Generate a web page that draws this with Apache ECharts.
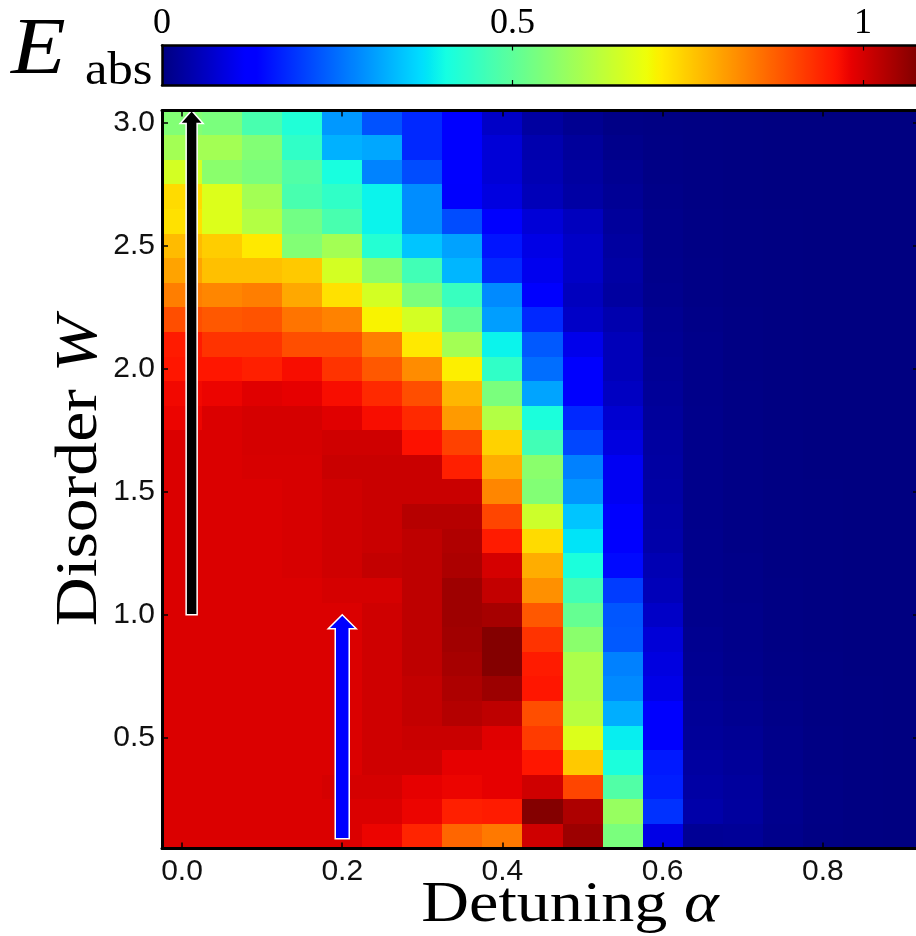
<!DOCTYPE html>
<html>
<head>
<meta charset="utf-8">
<script src="https://cdn.jsdelivr.net/npm/echarts@6/dist/echarts.min.js"></script>
<style>
html,body{margin:0;padding:0;background:#fff;}
#c{width:916px;height:936px;}
</style>
</head>
<body>
<div id="c"></div>
<script>
// ---------------- data ----------------
const alpha = [0, 0.05, 0.1, 0.15, 0.2, 0.25, 0.3, 0.35, 0.4, 0.45, 0.5, 0.55, 0.6, 0.65, 0.7, 0.75, 0.8, 0.85, 0.9];
const disorder = [3.0, 2.9, 2.8, 2.7, 2.6, 2.5, 2.4, 2.3, 2.2, 2.1, 2.0, 1.9, 1.8, 1.7, 1.6,
                  1.5, 1.4, 1.3, 1.2, 1.1, 1.0, 0.9, 0.8, 0.7, 0.6, 0.5, 0.4, 0.3, 0.2, 0.1];
// E_abs, one row per disorder value (top to bottom), one column per alpha
const Eabs = [
  [0.549,0.538,0.473,0.420,0.296,0.221,0.177,0.129,0.067,0.030,0.016,0.006,0.004,0.003,0.002,0.001,0.001,0.001,0.001], // 3.0
  [0.592,0.592,0.549,0.441,0.323,0.312,0.177,0.129,0.081,0.043,0.025,0.011,0.005,0.003,0.002,0.001,0.001,0.001,0.001], // 2.9
  [0.656,0.560,0.538,0.484,0.409,0.274,0.215,0.124,0.081,0.048,0.030,0.016,0.006,0.004,0.002,0.001,0.001,0.001,0.001], // 2.8
  [0.732,0.667,0.592,0.473,0.441,0.393,0.285,0.118,0.090,0.054,0.034,0.020,0.008,0.004,0.002,0.001,0.001,0.001,0.001], // 2.7
  [0.726,0.667,0.613,0.527,0.473,0.393,0.285,0.215,0.118,0.081,0.058,0.025,0.009,0.005,0.003,0.002,0.001,0.001,0.001], // 2.6
  [0.769,0.748,0.716,0.549,0.592,0.425,0.344,0.307,0.156,0.095,0.067,0.030,0.010,0.005,0.003,0.002,0.001,0.001,0.001], // 2.5
  [0.796,0.764,0.764,0.753,0.656,0.560,0.463,0.328,0.177,0.104,0.067,0.034,0.011,0.006,0.003,0.002,0.001,0.001,0.001], // 2.4
  [0.839,0.829,0.839,0.791,0.726,0.656,0.538,0.452,0.282,0.118,0.058,0.030,0.013,0.006,0.003,0.002,0.001,0.001,0.001], // 2.3
  [0.893,0.882,0.888,0.850,0.834,0.705,0.656,0.506,0.303,0.177,0.067,0.043,0.016,0.008,0.004,0.002,0.001,0.001,0.001], // 2.2
  [0.952,0.925,0.925,0.893,0.893,0.839,0.716,0.592,0.393,0.229,0.100,0.054,0.018,0.009,0.004,0.002,0.001,0.001,0.001], // 2.1
  [0.958,0.958,0.947,0.968,0.925,0.882,0.823,0.710,0.441,0.251,0.118,0.054,0.020,0.009,0.004,0.002,0.001,0.001,0.001], // 2.0
  [0.974,0.979,0.990,0.985,0.968,0.936,0.893,0.775,0.538,0.309,0.118,0.062,0.023,0.010,0.005,0.002,0.001,0.001,0.001], // 1.9
  [0.979,0.995,1.001,1.001,0.990,0.968,0.936,0.807,0.613,0.414,0.177,0.076,0.025,0.011,0.005,0.002,0.001,0.001,0.001], // 1.8
  [0.995,0.995,1.001,1.001,1.006,1.006,0.963,0.909,0.742,0.463,0.209,0.090,0.030,0.011,0.006,0.003,0.001,0.001,0.001], // 1.7
  [0.995,0.995,0.999,0.999,1.011,1.011,1.011,0.947,0.785,0.560,0.271,0.108,0.032,0.011,0.006,0.003,0.001,0.001,0.001], // 1.6
  [0.995,0.995,0.995,0.999,1.006,1.011,1.011,1.011,0.829,0.549,0.293,0.108,0.034,0.011,0.006,0.003,0.002,0.001,0.001], // 1.5
  [0.995,0.995,0.995,0.999,1.006,1.011,1.029,1.029,0.904,0.646,0.344,0.118,0.037,0.011,0.006,0.003,0.002,0.001,0.001], // 1.4
  [0.995,0.995,0.995,0.999,1.006,1.011,1.022,1.035,0.952,0.732,0.377,0.124,0.039,0.012,0.006,0.003,0.002,0.001,0.001], // 1.3
  [0.995,0.995,0.995,0.999,1.006,1.017,1.022,1.039,1.001,0.785,0.414,0.145,0.048,0.012,0.008,0.003,0.002,0.001,0.001], // 1.2
  [0.995,0.995,0.995,0.995,1.001,1.001,1.022,1.052,1.017,0.818,0.463,0.198,0.054,0.013,0.008,0.004,0.002,0.001,0.001], // 1.1
  [0.995,0.995,0.995,0.995,0.995,1.006,1.022,1.052,1.044,0.882,0.511,0.226,0.067,0.013,0.009,0.004,0.002,0.001,0.001], // 1.0
  [0.995,0.995,0.995,0.995,0.995,1.006,1.022,1.049,1.076,0.925,0.560,0.229,0.081,0.015,0.010,0.004,0.002,0.001,0.001], // 0.9
  [0.995,0.995,0.995,0.995,0.995,1.006,1.022,1.044,1.076,0.952,0.603,0.271,0.090,0.017,0.011,0.005,0.003,0.001,0.001], // 0.8
  [0.995,0.995,0.995,0.995,0.995,1.006,1.017,1.038,1.054,0.958,0.603,0.282,0.097,0.019,0.013,0.006,0.003,0.002,0.001], // 0.7
  [0.995,0.995,0.995,0.995,0.995,1.006,1.017,1.031,1.022,0.893,0.619,0.320,0.118,0.022,0.015,0.008,0.003,0.002,0.001], // 0.6
  [0.995,0.995,0.995,0.995,0.995,1.006,1.011,1.011,0.990,0.915,0.667,0.387,0.118,0.024,0.019,0.009,0.004,0.002,0.001], // 0.5
  [0.995,0.995,0.995,0.995,0.995,1.006,1.006,0.985,0.985,0.958,0.753,0.414,0.161,0.030,0.024,0.011,0.004,0.002,0.001], // 0.4
  [0.995,0.995,0.995,0.995,1.001,1.001,0.985,0.979,0.985,1.006,0.904,0.484,0.167,0.034,0.027,0.012,0.005,0.002,0.001], // 0.3
  [0.995,0.995,0.995,0.995,0.995,0.995,0.979,0.947,0.952,1.076,1.038,0.576,0.187,0.039,0.029,0.013,0.005,0.002,0.001], // 0.2
  [0.995,0.995,0.995,0.995,0.995,0.979,0.942,0.866,0.845,1.006,1.054,0.538,0.095,0.020,0.022,0.011,0.004,0.002,0.001]  // 0.1
];
const xTicks = [0, 0.2, 0.4, 0.6, 0.8];
const yTicks = [0.5, 1.0, 1.5, 2.0, 2.5, 3.0];
const cbTicks = [0, 0.5, 1];
const cbTickLabels = ['0', '0.5', '1'];
const colorRange = [0, 1.08];          // colour scale of E_abs
// arrows: alpha position, start W, end W (tip)
const arrowAlpha = [0.012, 0.2];
const arrowFrom = [1.0, 0.09];
const arrowTo = [3.05, 1.0];

// ---------------- jet colormap ----------------
const JET = {
  r: [[0,0],[0.35,0],[0.66,1],[0.89,1],[1,0.5]],
  g: [[0,0],[0.125,0],[0.375,1],[0.64,1],[0.91,0],[1,0]],
  b: [[0,0.5],[0.11,1],[0.34,1],[0.65,0],[1,0]]
};
function segVal(pts, t) {
  for (let k = 0; k < pts.length - 1; k++) {
    const t0 = pts[k][0], v0 = pts[k][1], t1 = pts[k+1][0], v1 = pts[k+1][1];
    if (t <= t1) return v0 + (v1 - v0) * (t - t0) / (t1 - t0);
  }
  return pts[pts.length - 1][1];
}
function jet(t) {
  const c = [segVal(JET.r, t), segVal(JET.g, t), segVal(JET.b, t)].map(v => Math.round(v * 255));
  return 'rgb(' + c.join(',') + ')';
}
const NSTOP = 256;
const jetColors = [];
for (let i = 0; i <= NSTOP; i++) jetColors.push(jet(i / NSTOP));

// ---------------- build series data ----------------
const cells = [];
disorder.forEach((w, i) => alpha.forEach((a, j) => cells.push([a, w, Eabs[i][j]])));
const dA = alpha[1] - alpha[0];
const dW = disorder[0] - disorder[1];
const arrows = arrowAlpha.map((a, i) => [a, arrowFrom[i], arrowTo[i]]);

const arrowStyles = [
  { fill: '#000000', shaft: 5.5, head: 11.5, headLen: 13 },
  { fill: '#0000ff', shaft: 7, head: 14, headLen: 14 }
];

const SERIF = '"Liberation Serif", "DejaVu Serif", serif';
const SANS = '"Liberation Sans", Arial, sans-serif';

function renderCell(params, api) {
  const a = api.value(0), w = api.value(1);
  const p0 = api.coord([a - dA / 2, w + dW / 2]);
  const p1 = api.coord([a + dA / 2, w - dW / 2]);
  const x0 = Math.round(p0[0]), y0 = Math.round(p0[1]);
  const x1 = Math.round(p1[0]), y1 = Math.round(p1[1]);
  return { type: 'rect', shape: { x: x0, y: y0, width: x1 - x0, height: y1 - y0 },
           style: { fill: api.visual('color') } };
}

function renderArrow(params, api) {
  const st = arrowStyles[params.dataIndex];
  const base = api.coord([api.value(0), api.value(1)]);
  const tip = api.coord([api.value(0), api.value(2)]);
  const cx = base[0], yb = base[1], yt = tip[1];
  const yh = yt + st.headLen;
  return {
    type: 'polygon',
    shape: { points: [[cx - st.shaft, yb], [cx + st.shaft, yb], [cx + st.shaft, yh], [cx + st.head, yh],
                      [cx, yt], [cx - st.head, yh], [cx - st.shaft, yh]] },
    style: { fill: st.fill, stroke: '#ffffff', lineWidth: 1.5, lineJoin: 'miter' }
  };
}

function renderColorbar(params, api) {
  const p0 = api.coord([api.value(0), 1]);
  const p1 = api.coord([api.value(1), 0]);
  const stops = jetColors.map((c, i) => ({ offset: i / NSTOP, color: c }));
  return { type: 'rect', shape: { x: p0[0], y: p0[1], width: p1[0] - p0[0], height: p1[1] - p0[1] },
           style: { fill: new echarts.graphic.LinearGradient(0, 0, 1, 0, stops) } };
}

const blackLine = { show: true, onZero: false, lineStyle: { color: '#000', width: 3 } };
const cbLine = { show: true, onZero: false, lineStyle: { color: '#000', width: 2.5 } };

const chart = echarts.init(document.getElementById('c'), null, { renderer: 'canvas', width: 916, height: 936 });

const option = {
  animation: false,
  backgroundColor: '#ffffff',
  grid: [
    { left: 162, right: -3, top: 110.5, bottom: 87.5, containLabel: false, outerBoundsMode: 'none' },
    { left: 162, right: -3, top: 45.5, height: 39.5, containLabel: false, outerBoundsMode: 'none' }
  ],
  visualMap: {
    type: 'continuous', show: false, seriesIndex: 0, dimension: 2,
    min: colorRange[0], max: colorRange[1], inRange: { color: jetColors }
  },
  xAxis: [
    { type: 'value', gridIndex: 0, min: -dA / 2, max: 0.92, position: 'bottom', z: 10,
      axisLine: blackLine, splitLine: { show: false },
      axisTick: { show: true, inside: true, length: 6, customValues: xTicks, lineStyle: { color: '#000', width: 1.5 } },
      axisLabel: { show: true, customValues: xTicks, formatter: v => v.toFixed(1),
                   fontFamily: SANS, fontSize: 30, color: '#111', margin: 8 } },
    { type: 'value', gridIndex: 0, min: -dA / 2, max: 0.92, position: 'top', z: 10,
      axisLine: blackLine, splitLine: { show: false }, axisLabel: { show: false },
      axisTick: { show: true, inside: true, length: 6, customValues: xTicks, lineStyle: { color: '#000', width: 1.5 } } },
    { type: 'value', gridIndex: 1, min: colorRange[0], max: colorRange[1], position: 'top', z: 10,
      axisLine: cbLine, splitLine: { show: false },
      axisTick: { show: true, inside: true, length: 5, customValues: cbTicks, lineStyle: { color: '#000', width: 1.2 } },
      axisLabel: { show: true, customValues: cbTicks, formatter: v => cbTickLabels[cbTicks.indexOf(v)],
                   fontFamily: SERIF, fontSize: 36, color: '#000', margin: 4 } },
    { type: 'value', gridIndex: 1, min: colorRange[0], max: colorRange[1], position: 'bottom', z: 10,
      axisLine: cbLine, splitLine: { show: false }, axisLabel: { show: false },
      axisTick: { show: true, inside: true, length: 5, customValues: cbTicks, lineStyle: { color: '#000', width: 1.2 } } }
  ],
  yAxis: [
    { type: 'value', gridIndex: 0, min: 0.05, max: 3.05, position: 'left', z: 10,
      axisLine: blackLine, splitLine: { show: false },
      axisTick: { show: true, inside: true, length: 6, customValues: yTicks, lineStyle: { color: '#000', width: 1.5 } },
      axisLabel: { show: true, customValues: yTicks, formatter: v => v.toFixed(1),
                   fontFamily: SANS, fontSize: 30, color: '#111', margin: 7 } },
    { type: 'value', gridIndex: 0, min: 0.05, max: 3.05, position: 'right', z: 10,
      axisLine: blackLine, splitLine: { show: false }, axisLabel: { show: false },
      axisTick: { show: true, inside: true, length: 6, customValues: yTicks, lineStyle: { color: '#000', width: 1.5 } } },
    { type: 'value', gridIndex: 1, min: 0, max: 1, position: 'left', z: 10,
      axisLine: cbLine, splitLine: { show: false }, axisLabel: { show: false }, axisTick: { show: false } }
  ],
  series: [
    { type: 'custom', name: 'E_abs', xAxisIndex: 0, yAxisIndex: 0, data: cells, renderItem: renderCell,
      encode: { x: 0, y: 1 }, clip: true, silent: true, z: 2 },
    { type: 'custom', name: 'arrows', xAxisIndex: 0, yAxisIndex: 0, data: arrows, renderItem: renderArrow,
      encode: { x: 0, y: [1, 2] }, clip: false, silent: true, z: 4 },
    { type: 'custom', name: 'colorbar', xAxisIndex: 2, yAxisIndex: 2, data: [colorRange], renderItem: renderColorbar,
      encode: { x: [0, 1] }, clip: false, silent: true, z: 2 }
  ],
  graphic: [
    { type: 'text', x: 11, y: 52, z: 20, scaleX: 1.12,
      style: { text: 'E', font: 'italic 80px ' + SERIF, fill: '#000', align: 'left', verticalAlign: 'middle' } },
    { type: 'text', x: 85, y: 72, z: 20, scaleX: 1.1,
      style: { text: 'abs', font: '46px ' + SERIF, fill: '#000', align: 'left', verticalAlign: 'middle' } },
    { type: 'text', x: 80, y: 471, rotation: Math.PI / 2, scaleX: 1.13, z: 20,
      style: { text: '{t|Disorder }{m|W}', align: 'center', verticalAlign: 'middle',
               rich: { t: { font: '60px ' + SERIF, fill: '#000' }, m: { font: 'italic 60px ' + SERIF, fill: '#000' } } } },
    { type: 'text', x: 570, y: 906, scaleX: 1.14, z: 20,
      style: { text: '{t|Detuning }{m|α}', align: 'center', verticalAlign: 'middle',
               rich: { t: { font: '58px ' + SERIF, fill: '#000' }, m: { font: 'italic 58px ' + SERIF, fill: '#000' } } } }
  ]
};
chart.setOption(option);
</script>
</body>
</html>
